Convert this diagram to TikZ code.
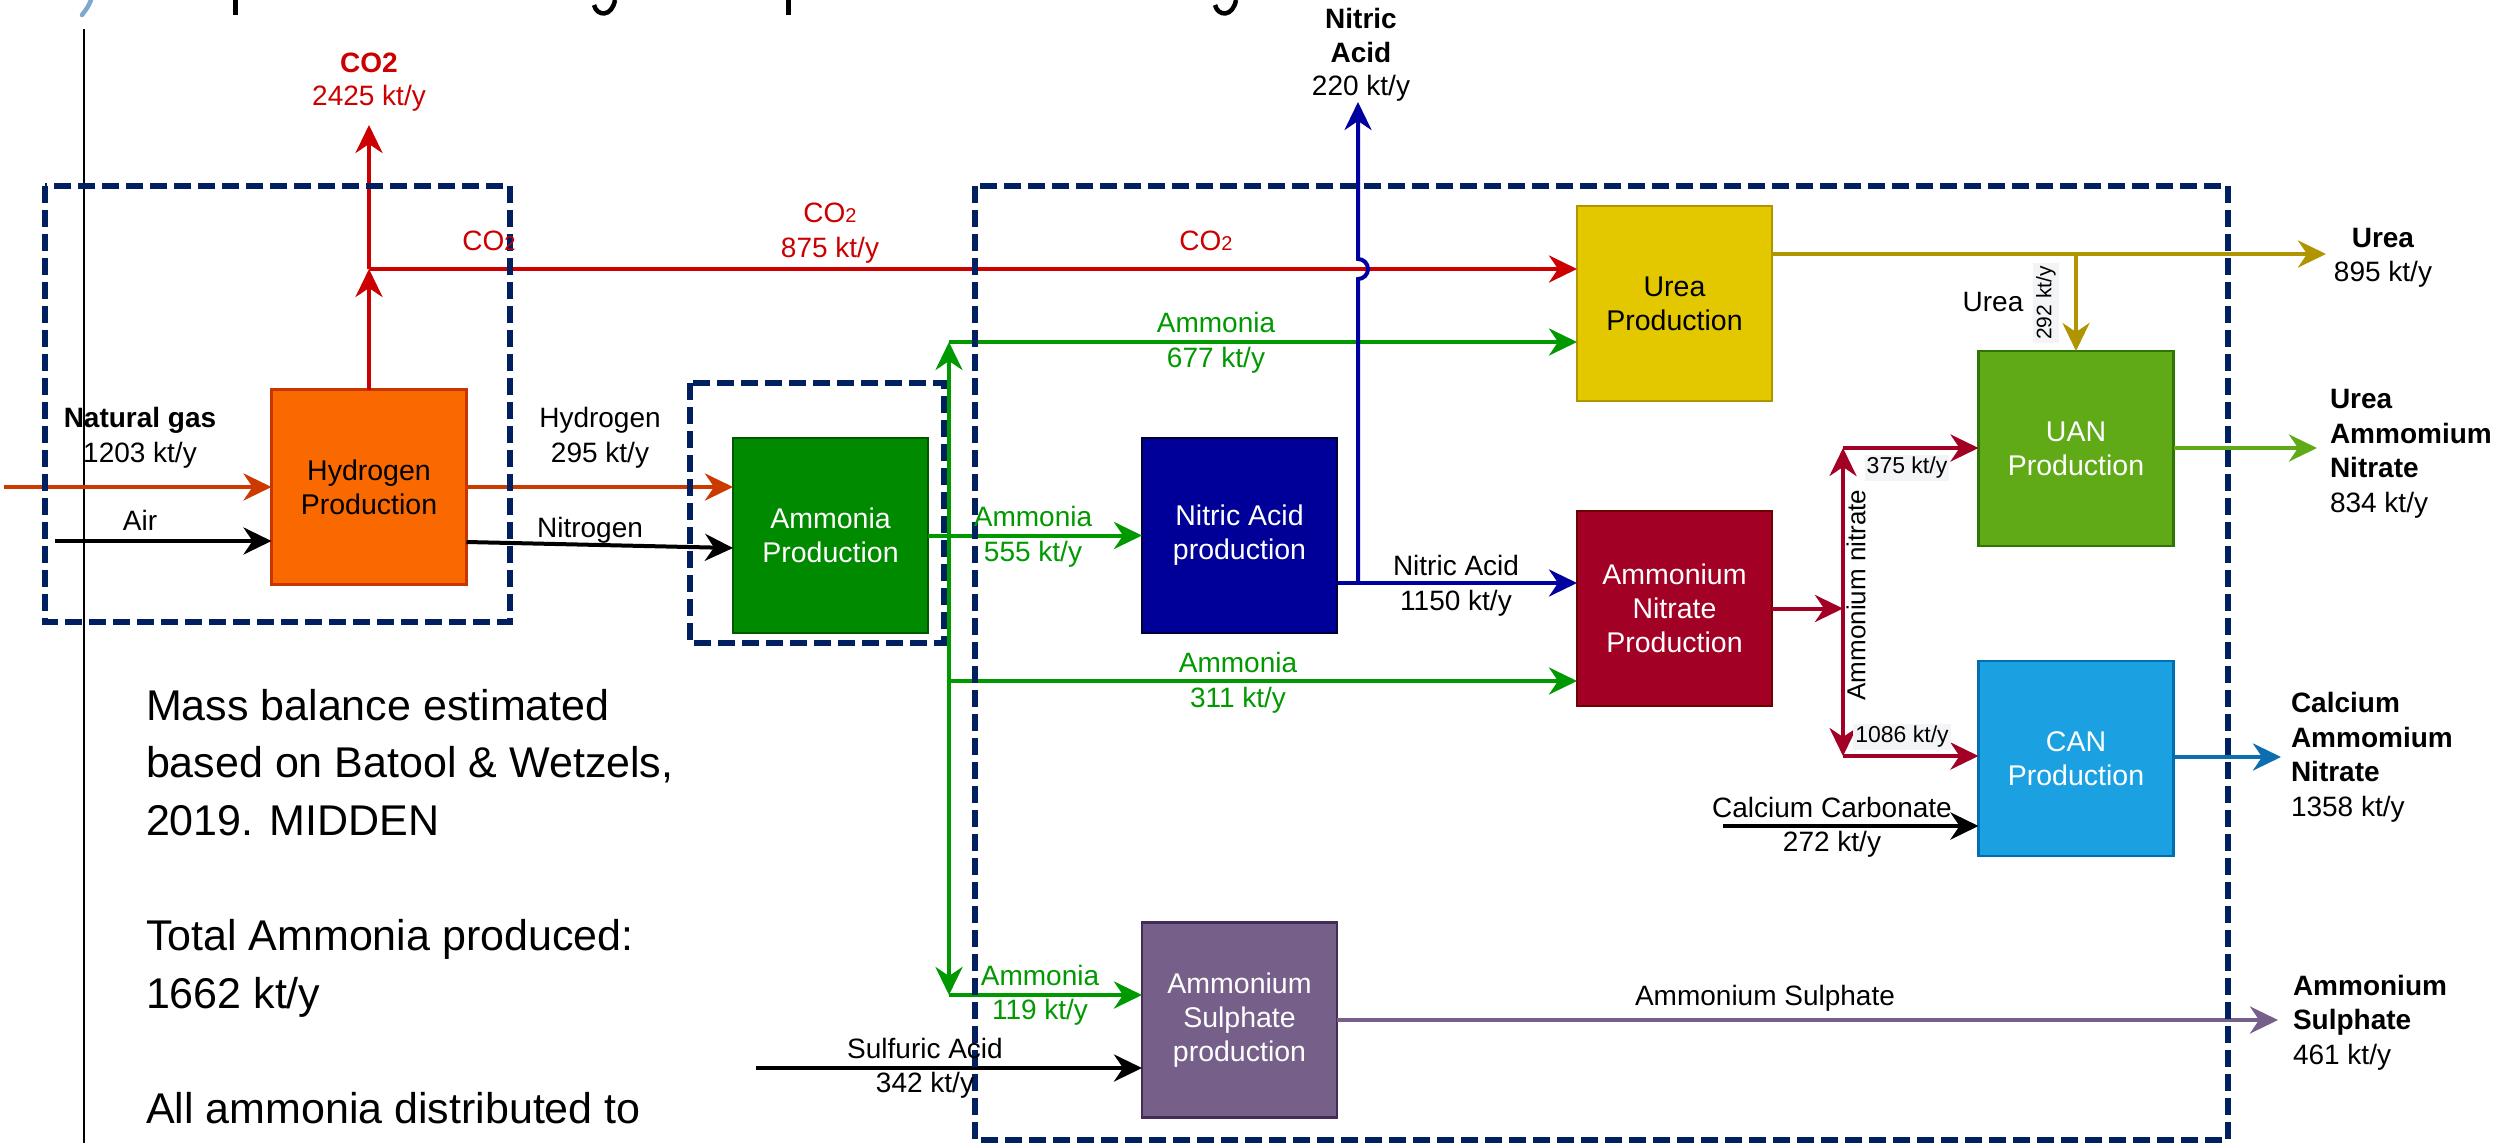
\documentclass[tikz,border=0pt]{standalone}
\usepackage{fontspec}
\setmainfont{Liberation Sans}
\usetikzlibrary{arrows.meta}
\definecolor{navy}{HTML}{002060}
\definecolor{cNG}{HTML}{CC3A00}
\definecolor{cRed}{HTML}{CC0000}
\definecolor{cGrn}{HTML}{009900}
\definecolor{cBlu}{HTML}{0000A0}
\definecolor{cGold}{HTML}{B09500}
\definecolor{cCrim}{HTML}{A20025}
\definecolor{cUANl}{HTML}{60A917}
\definecolor{cCANl}{HTML}{0A6EAF}
\definecolor{cASl}{HTML}{76608A}
\definecolor{fH}{HTML}{FA6800}\definecolor{dH}{HTML}{C73500}
\definecolor{fA}{HTML}{008A00}\definecolor{dA}{HTML}{005700}
\definecolor{fNA}{HTML}{000099}\definecolor{dNA}{HTML}{000033}
\definecolor{fU}{HTML}{E3C800}\definecolor{dU}{HTML}{B09500}
\definecolor{fAN}{HTML}{A20025}\definecolor{dAN}{HTML}{6F0000}
\definecolor{fUAN}{HTML}{60A917}\definecolor{dUAN}{HTML}{2D7600}
\definecolor{fCAN}{HTML}{1BA1E2}\definecolor{dCAN}{HTML}{006EAF}
\definecolor{fAS}{HTML}{76608A}\definecolor{dAS}{HTML}{432D57}
\definecolor{lbg}{HTML}{F3F4F6}
\definecolor{logo}{HTML}{7EA9CF}
\newcommand\subtwo{{\fontsize{20}{20}\selectfont 2}}
\begin{document}
\begin{tikzpicture}[x=1pt,y=-1pt,
  every node/.style={inner sep=0pt, outer sep=0pt},
  blk/.style={draw, line width=2.5pt, minimum width=195pt, minimum height=195pt, align=center, font=\fontsize{28.5}{34}\selectfont},
  lbl/.style={align=center, font=\fontsize{28}{34.5}\selectfont},
  smalllbl/.style={font=\fontsize{23}{27}\selectfont, fill=lbg, inner sep=2pt},
  fl/.style={line width=4pt, -{Stealth[length=28pt,width=27pt,inset=9pt]}},
  dbox/.style={draw=navy, line width=6pt, dash pattern=on 17pt off 7pt}
]
\fill[white] (0,0) rectangle (2504,1143);
\useasboundingbox (0,0) rectangle (2504,1143);

% slide remnants
\draw[line width=1.5pt] (84,29) -- (84,1143);
\draw[line width=4.5pt, logo, line cap=round] (91,0) .. controls (88,7) .. (82,15);
\fill (232.5,0) rectangle (237.5,15);
\fill (785.5,0) rectangle (790.5,15);
\draw[line width=4.5pt] (594,5) .. controls (597,17) and (612,17) .. (615,0);
\draw[line width=4.5pt] (1215,5) .. controls (1218,17) and (1233,17) .. (1236,0);

% blocks
\node[blk, fill=fH, draw=dH] (H) at (369,487) {Hydrogen\\Production};
\node[blk, fill=fA, draw=dA, text=white] (A) at (830.5,535.5) {Ammonia\\Production};
\node[blk, fill=fNA, draw=dNA, text=white] (NA) at (1239.5,535.5) {Nitric Acid\\production};
\node[blk, fill=fU, draw=dU] (U) at (1674.5,303.5) {Urea\\Production};
\node[blk, fill=fAN, draw=dAN, text=white] (AN) at (1674.5,608.5) {Ammonium\\Nitrate\\Production};
\node[blk, fill=fUAN, draw=dUAN, text=white] (UAN) at (2076,448.5) {UAN\\Production};
\node[blk, fill=fCAN, draw=dCAN, text=white] (CAN) at (2076,758.5) {CAN\\Production};
\node[blk, fill=fAS, draw=dAS, text=white] (AS) at (1239.5,1020) {Ammonium\\Sulphate\\production};

% coordinates
\coordinate (ng) at (4,487);
\coordinate (air) at (55,541);
\coordinate (y542) at (0,542);
\coordinate (y548) at (0,548);
\coordinate (j1) at (369,269);
\coordinate (co2o) at (369,125);
\coordinate (tA) at (949,535.5);
\coordinate (tU) at (949,342);
\coordinate (t311) at (949,681);
\coordinate (tD) at (949,995);
\coordinate (sa) at (756,1068);
\coordinate (nb) at (1358,583);
\coordinate (nj) at (1358,279);
\coordinate (nao) at (1358,102);
\coordinate (ub) at (2076,254);
\coordinate (uo) at (2326,254);
\coordinate (av) at (1843,608.5);
\coordinate (aT) at (1843,448);
\coordinate (aB) at (1843,756);
\coordinate (uano) at (2317,448);
\coordinate (cano) at (2281,757);
\coordinate (cc) at (1723,826);
\coordinate (aso) at (2278,1020);

% connectors
\draw[fl, cNG] (ng) -- (H.west |- ng);
\draw[fl, black] (air) -- (H.west |- air);
\draw[fl, cNG] (H.east |- ng) -- (A.west |- ng);
\draw[fl, black] (H.east |- y542) -- (A.west |- y548);
\draw[fl, cGrn] (A.east) -- (NA.west);
\draw[fl, cGrn] (tA) -- (tU);
\draw[fl, cGrn] (tU) -- (U.west |- tU);
\draw[fl, cGrn] (t311) -- (AN.west |- t311);
\draw[fl, cGrn] (tA) -- (tD);
\draw[fl, cGrn] (tD) -- (AS.west |- tD);
\draw[fl, black] (sa) -- (AS.west |- sa);
\draw[fl, cRed] (H.north) -- (j1);
\draw[fl, cRed] (j1) -- (co2o);
\draw[fl, cRed] (j1) -- (U.west |- j1);
\draw[fl, cBlu] (NA.east |- nb) -- (AN.west |- nb);
\draw[fl, cBlu] (nb) -- (nj) arc[start angle=-90, end angle=90, radius=10pt] -- (nao);
\draw[fl, cGold] (U.east |- ub) -- (uo);
\draw[fl, cGold] (ub) -- (UAN.north);
\draw[fl, cCrim] (AN.east) -- (av);
\draw[fl, cCrim] (av) -- (aT);
\draw[fl, cCrim] (aT) -- (UAN.west |- aT);
\draw[fl, cCrim] (av) -- (aB);
\draw[fl, cCrim] (aB) -- (CAN.west |- aB);
\draw[fl, cUANl] (UAN.east |- uano) -- (uano);
\draw[fl, cCANl] (CAN.east |- cano) -- (cano);
\draw[fl, black, line width=4.5pt] (cc) -- (CAN.west |- cc);
\draw[fl, cASl] (AS.east) -- (aso);

% dashed boundaries
\draw[dbox] (45,186) rectangle (510,622);
\draw[dbox] (690,383) rectangle (944,643);
\draw[dbox] (975,186) rectangle (2228,1140);

% labels
\node[lbl] (lNG) at (140,438) {\textbf{Natural gas}\\1203 kt/y};
\node[lbl] (lAir) at (140,520) {Air};
\node[lbl] (lH2) at (600,438) {Hydrogen\\295 kt/y};
\node[lbl] (lN2) at (590,530) {Nitrogen};
\node[lbl, text=cGrn] (lA555) at (1033,537) {Ammonia\\555 kt/y};
\node[lbl, text=cGrn] (lA677) at (1216,343) {Ammonia\\677 kt/y};
\node[lbl, text=cGrn] (lA311) at (1238,683) {Ammonia\\311 kt/y};
\node[lbl, text=cGrn] (lA119) at (1040,995) {Ammonia\\119 kt/y};
\node[lbl] (lSA) at (925,1068) {Sulfuric Acid\\342 kt/y};
\node[lbl, text=cRed, font=\fontsize{28}{33}\selectfont] (lCO2o) at (369,82) {\textbf{CO2}\\2425 kt/y};
\node[lbl, text=cRed] (lCO2a) at (489,241) {CO\subtwo};
\node[lbl, text=cRed] (lCO2b) at (830,233) {CO\subtwo\\875 kt/y};
\node[lbl, text=cRed] (lCO2c) at (1206,241) {CO\subtwo};
\node[lbl, font=\fontsize{28}{33.5}\selectfont] (lNAo) at (1361,55) {\textbf{Nitric}\\\textbf{Acid}\\220 kt/y};
\node[lbl] (lNA) at (1456,586) {Nitric Acid\\1150 kt/y};
\node[lbl] (lUo) at (2383,258) {\textbf{Urea}\\895 kt/y};
\node[lbl] (lU) at (1993,302) {Urea};
\node[smalllbl, font=\fontsize{21}{25}\selectfont, inner sep=3pt, rotate=90] (l292) at (2046,303) {292 kt/y};
\node[font=\fontsize{26}{30}\selectfont, rotate=90] (lANn) at (1856,595) {Ammonium nitrate};
\node[smalllbl] (l375) at (1907,468) {375 kt/y};
\node[smalllbl] (l1086) at (1902,737) {1086 kt/y};
\node[lbl, align=left, anchor=west] (lUANo) at (2330,454) {\textbf{Urea}\\\textbf{Ammomium}\\\textbf{Nitrate}\\834 kt/y};
\node[lbl, align=left, anchor=west] (lCANo) at (2291,757.5) {\textbf{Calcium}\\\textbf{Ammomium}\\\textbf{Nitrate}\\1358 kt/y};
\node[lbl, align=left, anchor=west] (lASo) at (2293,1022.5) {\textbf{Ammonium}\\\textbf{Sulphate}\\461 kt/y};
\node[lbl] (lASe) at (1765,998.5) {Ammonium Sulphate};
\node[lbl] (lCC) at (1832,827.5) {Calcium Carbonate\\272 kt/y};

% note text
\node[anchor=north west, align=left, font=\fontsize{43}{57.6}\selectfont] (note) at (146,689) {Mass balance estimated\\based on Batool \& Wetzels,\\2019. MIDDEN\\[57.6pt]Total Ammonia produced:\\1662 kt/y\\[57.6pt]All ammonia distributed to};
\end{tikzpicture}
\end{document}
